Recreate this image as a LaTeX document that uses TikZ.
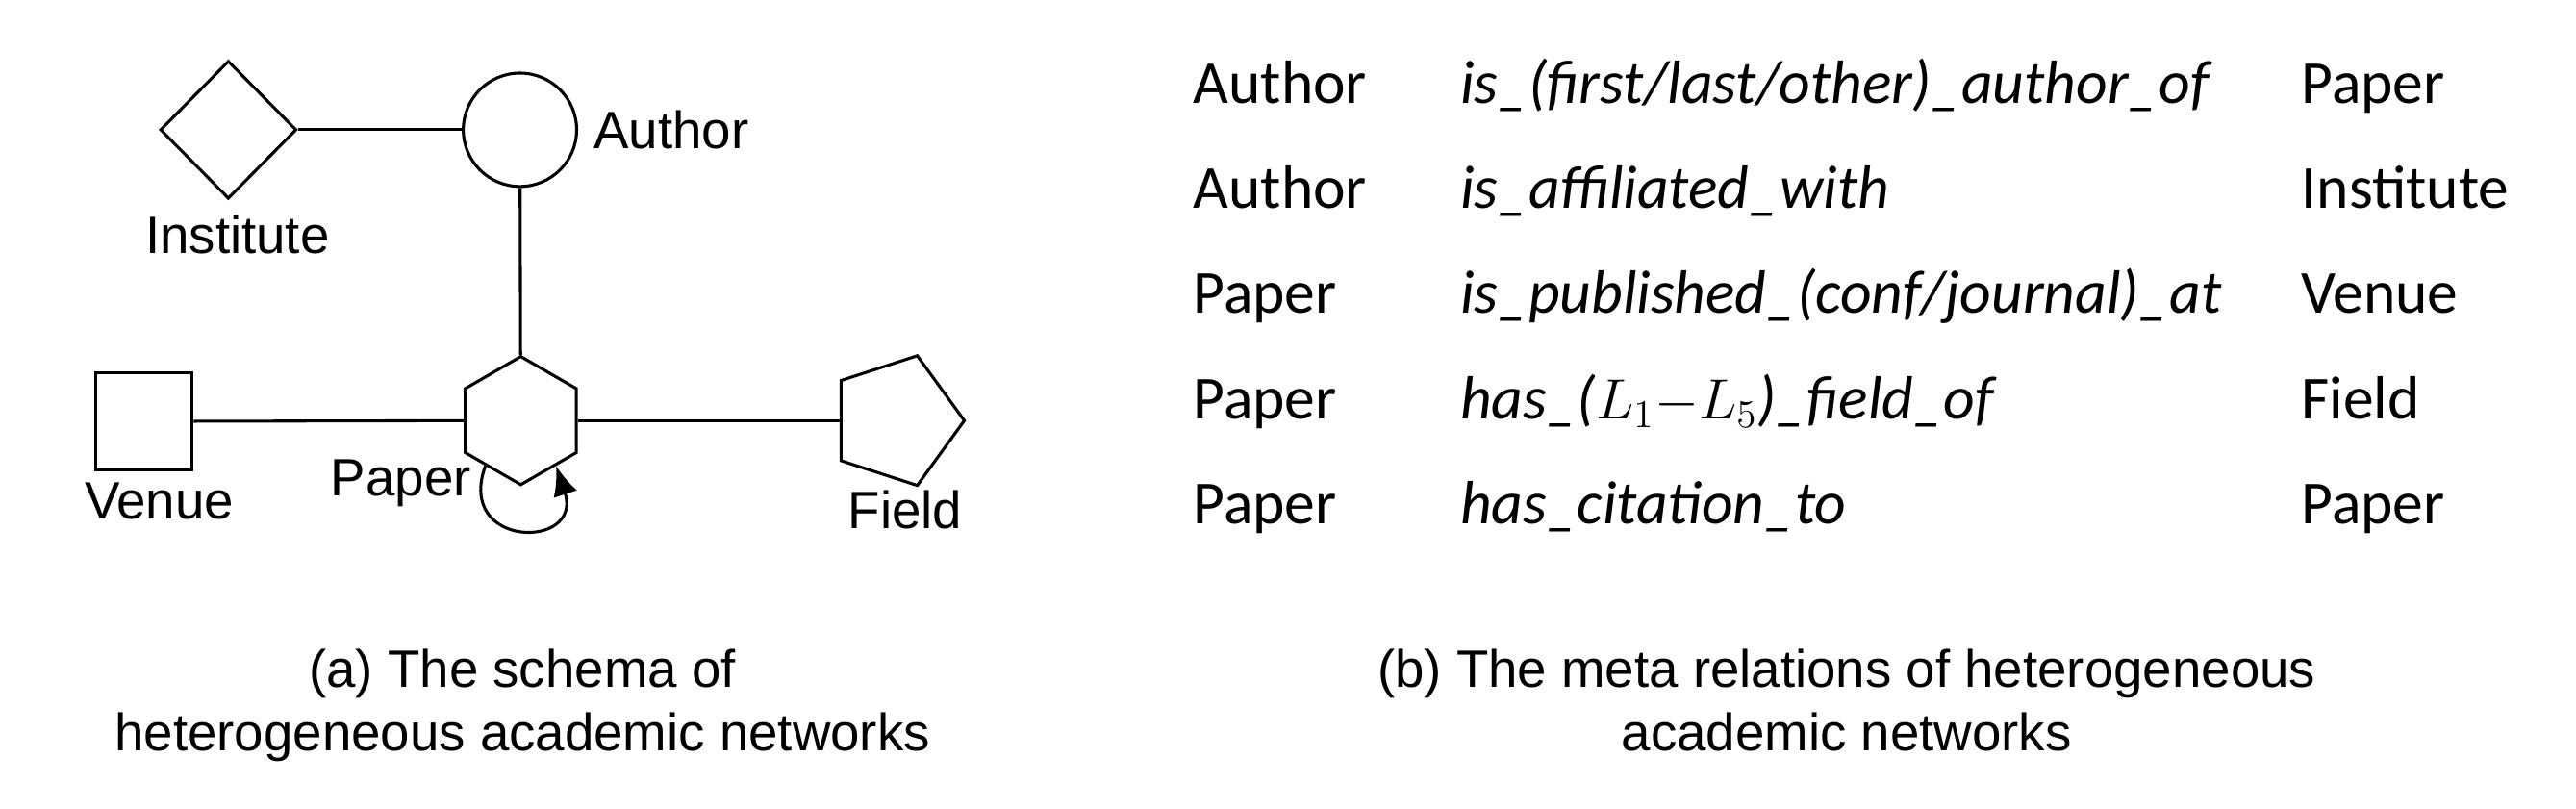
\documentclass[tikz,border=0pt]{standalone}
\usepackage{fontspec}
\setmainfont{Liberation Sans}
\newfontfamily\tabfont{Carlito}
\usetikzlibrary{shapes.geometric,arrows.meta}
\begin{document}
\begin{tikzpicture}[x=0.5pt,y=-0.5pt,
  shp/.style={draw, line width=0.9pt, inner sep=0pt},
  conn/.style={line width=0.9pt},
  lbl/.style={font=\fontsize{16pt}{19pt}\selectfont, inner sep=0pt, anchor=base},
  tb/.style={font=\tabfont\fontsize{18.6pt}{22pt}\selectfont, inner sep=0pt, anchor=base west},
  tbi/.style={font=\tabfont\itshape\fontsize{18.6pt}{22pt}\selectfont, inner sep=0pt, anchor=base west}]
\useasboundingbox (0,0) rectangle (1568,492);

% schema shapes
\node[shp, diamond, aspect=1, minimum width=41.5pt, minimum height=42pt] (inst) at (139,79) {};
\node[shp, circle, minimum size=34.5pt] (author) at (316.5,79) {};
\node[shp, regular polygon, regular polygon sides=6, shape border rotate=30, minimum size=39pt] (paper) at (317,256) {};
\node[shp, rectangle, minimum size=29.5pt] (venue) at (87.5,256.5) {};
\node[shp, regular polygon, regular polygon sides=5, shape border rotate=-90, minimum size=41.5pt] (field) at (545.5,256) {};

% connectors
\draw[conn] (inst) -- (author);
\draw[conn] (author) -- (paper);
\draw[conn] (venue) -- (paper);
\draw[conn] (paper) -- (field);
\draw[conn, -{Latex[length=9pt,width=7.5pt]}] (paper.-128) to[out=-110, in=-72, looseness=3.2] (paper.-52);

% labels
\node[lbl, anchor=base west] (lauthor) at (361,90.5) {Author};
\node[lbl] (linst) at (144.5,154.5) {Institute};
\node[lbl] (lvenue) at (97,316) {Venue};
\node[lbl] (lpaper) at (244,302) {Paper};
\node[lbl] (lfield) at (551,322) {Field};

% table
\node[tb] (r1a) at (726,62.8) {Author};
\node[tbi] (r1b) at (888.5,62.8) {is\_(first/last/other)\_author\_of};
\node[tb] (r1c) at (1400.5,62.8) {Paper};
\node[tb] (r2a) at (726,126.8) {Author};
\node[tbi] (r2b) at (888.5,126.8) {is\_affiliated\_with};
\node[tb] (r2c) at (1400.5,126.8) {Institute};
\node[tb] (r3a) at (726,190.8) {Paper};
\node[tbi] (r3b) at (888.5,190.8) {is\_published\_(conf/journal)\_at};
\node[tb] (r3c) at (1400.5,190.8) {Venue};
\node[tb] (r4a) at (726,254.8) {Paper};
\node[tbi] (r4b) at (888.5,254.8) {has\_($L_1{-}L_5$)\_field\_of};
\node[tb] (r4c) at (1400.5,254.8) {Field};
\node[tb] (r5a) at (726,318.8) {Paper};
\node[tbi] (r5b) at (888.5,318.8) {has\_citation\_to};
\node[tb] (r5c) at (1400.5,318.8) {Paper};

% captions
\node[lbl] (capa1) at (318,418.6) {(a) The schema of};
\node[lbl] (capa2) at (318,456.7) {heterogeneous academic networks};
\node[lbl] (capb1) at (1124,418.6) {(b) The meta relations of heterogeneous};
\node[lbl] (capb2) at (1124,456.7) {academic networks};
\end{tikzpicture}
\end{document}
